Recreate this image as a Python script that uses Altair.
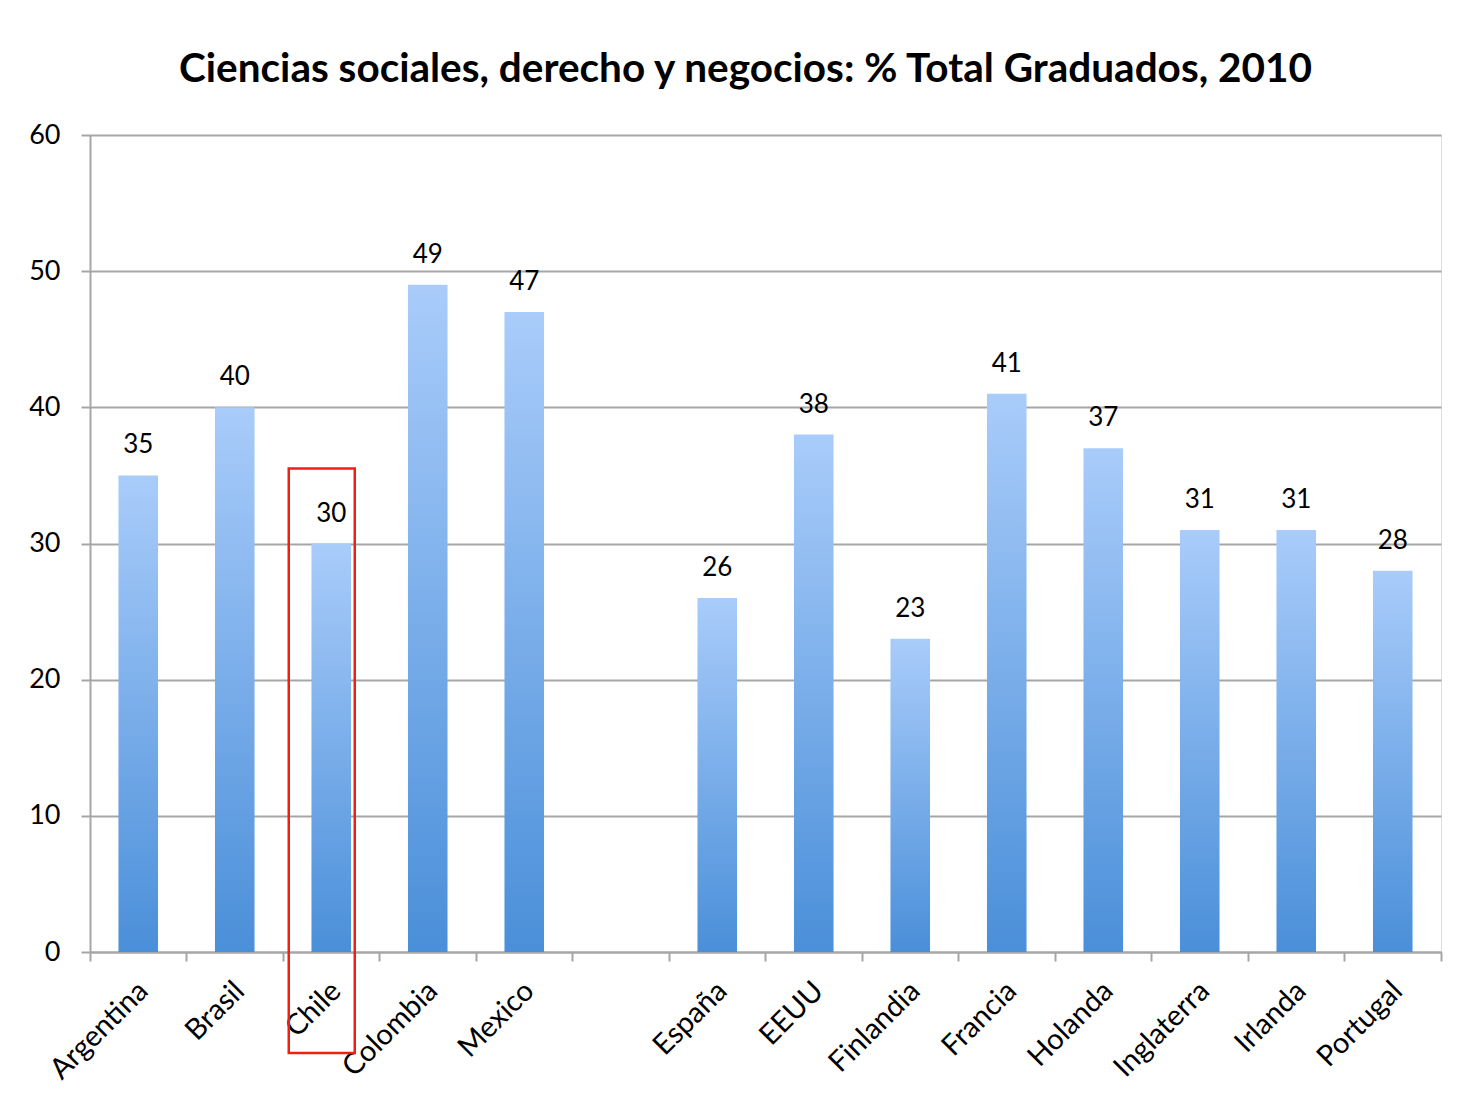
import altair as alt
import pandas as pd

countries = ["Argentina", "Brasil", "Chile", "Colombia", "Mexico", " ",
             "España", "EEUU", "Finlandia", "Francia", "Holanda",
             "Inglaterra", "Irlanda", "Portugal"]
values = [35, 40, 30, 49, 47, None, 26, 38, 23, 41, 37, 31, 31, 28]

highlight_country = ["Chile"]
highlight_top = [35.5]

df = pd.DataFrame({"country": countries, "value": values})
hl = pd.DataFrame({"country": highlight_country, "top": highlight_top})

FONT = "Lato"
GRAY = "#a6a6a6"

x_enc = alt.X(
    "country:N", sort=countries, title=None,
    scale=alt.Scale(paddingInner=0, paddingOuter=0),
    axis=alt.Axis(
        labelAngle=-45, labelAlign="right", labelBaseline="middle",
        labelFont=FONT, labelFontSize=29, labelColor="#000000",
        labelPadding=25, labelOffset=5,
        bandPosition=1, tickExtra=True,
        tickSize=9, tickColor=GRAY, tickWidth=2,
        domainColor=GRAY, domainWidth=2, grid=False,
    ),
)

y_scale = alt.Scale(domain=[0, 60], nice=False)

bars = alt.Chart(df).mark_bar(
    width={"band": 0.41},
    color=alt.Gradient(
        gradient="linear",
        stops=[alt.GradientStop(color="#a9ccfa", offset=0),
               alt.GradientStop(color="#4a8fd9", offset=1)],
        x1=0, x2=0, y1=0, y2=1,
    ),
).encode(
    x=x_enc,
    y=alt.Y("value:Q", scale=y_scale, title=None,
            axis=alt.Axis(values=[0, 10, 20, 30, 40, 50, 60],
                          labelFont=FONT, labelFontSize=27, labelColor="#000000",
                          labelPadding=21, tickSize=9, tickColor=GRAY, tickWidth=2,
                          domainColor=GRAY, domainWidth=2,
                          gridColor=GRAY, gridWidth=2)),
)

labels = alt.Chart(df).mark_text(
    font=FONT, fontSize=26, color="#000000", dy=-30, baseline="middle",
).encode(
    x=alt.X("country:N", sort=countries),
    y=alt.Y("value:Q", scale=y_scale),
    text=alt.Text("value:Q", format="d"),
)

box = alt.Chart(hl).mark_rect(
    fill=None, fillOpacity=0, stroke="#f02010", strokeWidth=2.5,
    width=66, xOffset=-9.5,
).encode(
    x=alt.X("country:N", sort=countries),
    y=alt.Y("top:Q", scale=y_scale),
    y2=alt.value(918),
)

chart = alt.layer(bars, labels, box).properties(
    width=1351, height=817,
    autosize=alt.AutoSizeParams(type="none"),
    padding={"left": 82, "top": 127, "right": 19, "bottom": 140},
    title=alt.TitleParams(
        "Ciencias sociales, derecho y negocios: % Total Graduados, 2010",
        font=FONT, fontSize=40.5, fontWeight="bold", color="#000000",
        anchor="middle", offset=31, dx=-20,
    ),
).configure_view(stroke=None).configure(background="#ffffff")

chart.save("out.html", embed_options={"renderer": "svg", "actions": False})
